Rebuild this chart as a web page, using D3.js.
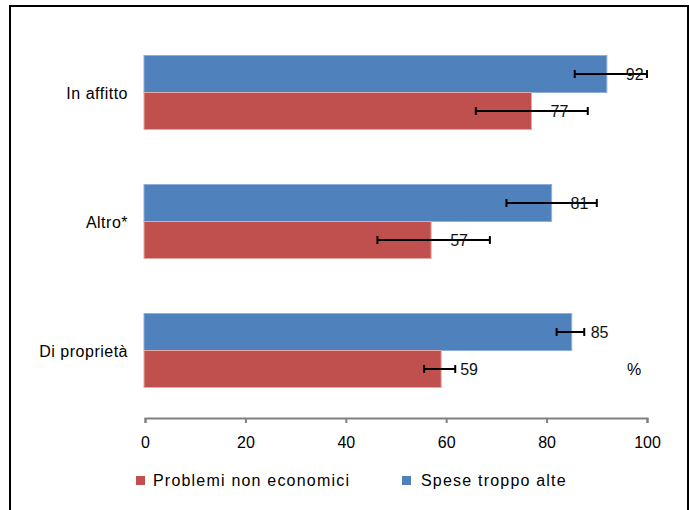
<!DOCTYPE html>
<html>
<head>
<meta charset="utf-8">
<script src="https://cdn.jsdelivr.net/npm/d3@7"></script>
<style>
html,body{margin:0;padding:0;background:#fff;}
svg{display:block;font-family:"Liberation Sans",Arial,sans-serif;}
</style>
</head>
<body>
<div id="chart"></div>
<script>
const categories = ["In affitto", "Altro*", "Di proprietà"];
const seriesNames = ["Spese troppo alte", "Problemi non economici"];
const speseValues = [92, 81, 85];
const speseLow = [85.6, 72.0, 82.0];
const speseHigh = [100, 90.0, 87.5];
const problemiValues = [77, 57, 59];
const problemiLow = [65.9, 46.3, 55.6];
const problemiHigh = [88.2, 68.7, 61.8];
const tickValues = [0, 20, 40, 60, 80, 100];

const W = 689, H = 510;
const colors = {"Spese troppo alte": "#4F81BD", "Problemi non economici": "#C0504D"};
const strokes = {"Spese troppo alte": "#8FAEDA", "Problemi non economici": "#E6A8A6"};

const svg = d3.select("#chart").append("svg").attr("width", W).attr("height", H);

// frame
svg.append("rect").attr("x", 10).attr("y", 6).attr("width", 678).attr("height", 530)
  .attr("fill", "none").attr("stroke", "#000").attr("stroke-width", 2);

const x = d3.scaleLinear().domain([0, 100]).range([145, 647]);
const y = d3.scaleBand().domain(categories).range([28, 415]);
const barH = 37;

const series = [
  {name: "Spese troppo alte", values: speseValues, low: speseLow, high: speseHigh, offset: -barH},
  {name: "Problemi non economici", values: problemiValues, low: problemiLow, high: problemiHigh, offset: 0}
];

series.forEach(s => {
  const g = svg.append("g");
  const rows = categories.map((c, i) => ({c, v: s.values[i], lo: s.low[i], hi: s.high[i]}));
  g.selectAll("rect").data(rows).join("rect")
    .attr("x", x(0) - 1)
    .attr("y", d => y(d.c) + y.bandwidth() / 2 + s.offset)
    .attr("width", d => x(d.v) - x(0) + 1)
    .attr("height", barH)
    .attr("fill", colors[s.name])
    .attr("stroke", strokes[s.name])
    .attr("stroke-width", 1);
});

// error bars and labels
series.forEach(s => {
  const g = svg.append("g");
  categories.forEach((c, i) => {
    const cy = y(c) + y.bandwidth() / 2 + s.offset + barH / 2;
    g.append("line").attr("x1", x(s.low[i])).attr("x2", x(s.high[i]))
      .attr("y1", cy).attr("y2", cy).attr("stroke", "#000").attr("stroke-width", 2);
    [s.low[i], s.high[i]].forEach(v => {
      g.append("line").attr("x1", x(v)).attr("x2", x(v))
        .attr("y1", cy - 4).attr("y2", cy + 4).attr("stroke", "#000").attr("stroke-width", 2);
    });
    g.append("text").attr("x", x(s.values[i]) + 19).attr("y", cy + 6)
      .attr("font-size", 16).attr("fill", "#111").text(s.values[i]);
  });
});

// category labels
svg.append("g").selectAll("text").data(categories).join("text")
  .attr("x", 128).attr("y", d => y(d) + y.bandwidth() / 2 + 6)
  .attr("text-anchor", "end").attr("font-size", 16).attr("letter-spacing", 0.5)
  .attr("fill", "#000").text(d => d);

// x axis
const axis = svg.append("g").attr("transform", "translate(0,418)")
  .call(d3.axisBottom(x).tickValues(tickValues).tickSize(5).tickSizeOuter(5).tickPadding(14));
axis.select(".domain").attr("stroke", "#808080").attr("stroke-width", 2);
axis.selectAll(".tick line").attr("stroke", "#808080").attr("stroke-width", 2);
axis.selectAll(".tick text").attr("font-size", 16).attr("fill", "#000")
  .attr("font-family", "Liberation Sans, Arial, sans-serif");

// percent sign
svg.append("text").attr("x", x(96)).attr("y", 375).attr("font-size", 16).attr("fill", "#000").text("%");

// legend
const legendItems = [
  {name: "Problemi non economici", sx: 136, tx: 153},
  {name: "Spese troppo alte", sx: 402, tx: 421}
];
legendItems.forEach(l => {
  svg.append("rect").attr("x", l.sx).attr("y", 476).attr("width", 9).attr("height", 9)
    .attr("fill", colors[l.name]);
  svg.append("text").attr("x", l.tx).attr("y", 486).attr("font-size", 16)
    .attr("letter-spacing", 1.2).attr("fill", "#000").text(l.name);
});
</script>
</body>
</html>
